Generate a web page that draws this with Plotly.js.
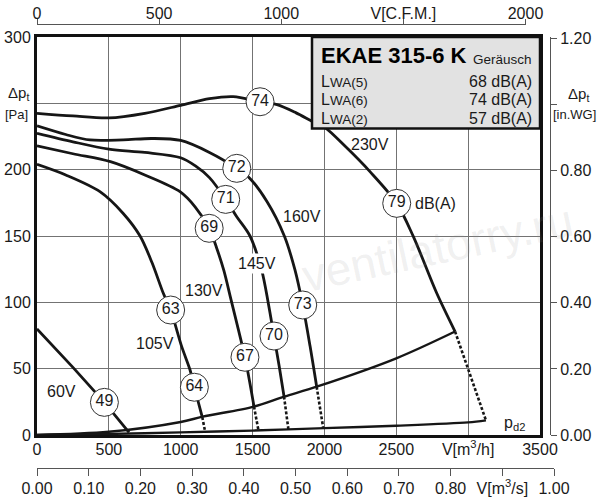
<!DOCTYPE html>
<html>
<head>
<meta charset="utf-8">
<script src="https://cdn.plot.ly/plotly-3.0.1.min.js"></script>
<style>html,body{margin:0;padding:0;background:#fff}#chart{width:600px;height:500px}</style>
</head>
<body>
<div id="chart"></div>
<script>
// ---- data (V in m3/h, p in Pa) ----
const V230 = [0, 250, 500, 750, 1000, 1200, 1365, 1552, 1670, 1800, 1923, 2000, 2150, 2317, 2503, 2619, 2781, 2909];
const P230 = [242.5, 240.5, 239, 242.5, 248.5, 253.5, 255, 251.2, 249, 243, 236, 232, 217, 198.5, 174.6, 149.5, 107, 78];
const V160 = [0, 200, 369, 600, 800, 1000, 1200, 1390, 1470, 1600, 1721, 1795, 1849, 1900, 1946];
const P160 = [233, 226.5, 222.4, 222.5, 223.5, 222, 213, 201, 194.7, 176, 150, 124.4, 98, 67, 36.4];
const V145 = [0, 250, 500, 750, 1000, 1100, 1200, 1313, 1390, 1482, 1563, 1610, 1649, 1685, 1719];
const P145 = [227.4, 221, 215.5, 213, 209, 203, 194, 177.6, 164.5, 150, 124.4, 99, 74.6, 52, 29];
const V130 = [0, 250, 511, 750, 995, 1100, 1198, 1250, 1300, 1350, 1400, 1447, 1480, 1510];
const P130 = [218, 212, 206, 196, 183.4, 172, 155.8, 141, 124, 102, 80, 58.6, 40, 21.4];
const V105 = [0, 200, 438, 600, 717, 800, 879, 930, 1007, 1065, 1095, 1150];
const P105 = [204, 196, 183.4, 167, 150, 130, 106.8, 94.2, 66.6, 49, 36, 13.5];
const V60 = [0, 250, 469, 640];
const P60 = [80, 51, 24.6, 2];
// end-of-curve dotted parts (below the pd line)
const Vdot105 = [1150, 1169], Pdot105 = [13.5, 3];
const Vdot130 = [1510, 1540], Pdot130 = [21.4, 4];
const Vdot145 = [1719, 1749], Pdot145 = [29, 4.5];
const Vdot160 = [1946, 1992], Pdot160 = [36.4, 5];
const Vdot230 = [2909, 3124], Pdot230 = [78, 11];
// system / dynamic pressure lines
const Vpd = [0, 500, 1000, 1153, 1510, 1719, 1946, 2500, 2909];
const Ppd = [0, 2.4, 9.8, 13.8, 21.4, 28.9, 36.4, 57.8, 78];
const Vpd2 = [0, 500, 1000, 1500, 2000, 2500, 3000, 3124];
const Ppd2 = [0, 0.8, 2, 3.3, 5.2, 7, 9.5, 11];
// sound-level circles
const circV = [1552, 1390, 1313, 1198, 2503, 930, 1095, 1447, 1649, 1849, 469];
const circP = [251.2, 201, 177.6, 155.8, 174.6, 94.2, 36, 58.6, 74.6, 98, 24.6];
const circT = ['74', '72', '71', '69', '79', '63', '64', '67', '70', '73', '49'];
// curve labels
const labV = [2317, 1847, 1529, 1163, 821, 172, 2775];
const labP = [218.6, 164.5, 129.1, 108.7, 69.3, 32.6, 174.3];
const labT = ['230V', '160V', '145V', '130V', '105V', '60V', 'dB(A)'];
// axis ticks
const xTicks = [0, 500, 1000, 1500, 2000, 2500, 3000, 3500];
const xTickText = ['0', '500', '1000', '1500', '2000', '2500', 'V[m<sup>3</sup>/h]', '3500'];
const yTicks = [0, 50, 100, 150, 200, 300];
const yTickText = ['0', '50', '100', '150', '200', '300'];
const cfmTicks = [0, 500, 1000, 1500, 2000];
const cfmTickText = ['0', '500', '1000', 'V[C.F.M.]', '2000'];
const m3sTicks = [0, 0.1, 0.2, 0.3, 0.4, 0.5, 0.6, 0.7, 0.8, 0.9, 1.0];
const m3sTickText = ['0.00', '0.10', '0.20', '0.30', '0.40', '0.50', '0.60', '0.70', '0.80', 'V[m<sup>3</sup>/s]', '1.00'];
const wgTicks = [0, 0.2, 0.4, 0.6, 0.8, 1.2];
const wgTickText = ['0.00', '0.20', '0.40', '0.60', '0.80', '1.20'];
// info box
const boxTitle = 'EKAE 315-6 K';
const boxSub = 'Geräusch';
const rowNames = ['(5)', '(6)', '(2)'];
const rowVals = ['68 dB(A)', '74 dB(A)', '57 dB(A)'];

const FONT = 'Liberation Sans, Arial, Helvetica, sans-serif';
const TXT = '#1a1a1a';
const CURVE = '#161616';
const ax = p => p / 600;
const ay = p => (500 - p) / 500;

function solid(x, y, w) {
  return {x: x, y: y, type: 'scatter', mode: 'lines', line: {color: CURVE, width: w || 2.8, shape: 'spline', smoothing: 0.9},
          hoverinfo: 'skip', showlegend: false};
}
function dotted(x, y) {
  return {x: x, y: y, type: 'scatter', mode: 'lines', line: {color: CURVE, width: 2.6, dash: '3px,2px'},
          hoverinfo: 'skip', showlegend: false};
}
const traces = [
  solid(Vpd, Ppd, 2.4), solid(Vpd2, Ppd2, 2.4),
  solid(V230, P230), solid(V160, P160), solid(V145, P145), solid(V130, P130), solid(V105, P105),
  {x: V60, y: P60, type: 'scatter', mode: 'lines', line: {color: CURVE, width: 2.8}, hoverinfo: 'skip', showlegend: false},
  dotted(Vdot105, Pdot105), dotted(Vdot130, Pdot130), dotted(Vdot145, Pdot145), dotted(Vdot160, Pdot160), dotted(Vdot230, Pdot230),
  {x: circV, y: circP, text: circT, type: 'scatter', mode: 'markers+text', textposition: 'middle center',
   marker: {size: 28, color: '#ffffff', line: {color: '#333', width: 1}},
   textfont: {family: FONT, size: 16, color: TXT}, hoverinfo: 'skip', showlegend: false, cliponaxis: false},
  // anchors for the secondary axes (invisible)
  {x: [0], y: [0], xaxis: 'x2', yaxis: 'y3', type: 'scatter', mode: 'markers', marker: {opacity: 0}, hoverinfo: 'skip', showlegend: false},
  {x: [0], y: [0], xaxis: 'x3', yaxis: 'y4', type: 'scatter', mode: 'markers', marker: {opacity: 0}, hoverinfo: 'skip', showlegend: false},
  {x: [0], y: [0], xaxis: 'x', yaxis: 'y2', type: 'scatter', mode: 'markers', marker: {opacity: 0}, hoverinfo: 'skip', showlegend: false}
];

const annotations = [];
function note(x, y, text, size, extra) {
  const a = {x: x, y: y, xref: 'paper', yref: 'paper', xanchor: 'center', yanchor: 'middle', text: text,
    showarrow: false, font: {family: FONT, size: size, color: TXT}};
  Object.assign(a, extra || {});
  annotations.push(a);
}
// watermark (drawn first, underneath the other texts)
note(ax(437), ay(248), 'ventilatorry.ru', 46, {textangle: -12, font: {family: FONT, size: 46, color: 'rgba(150,150,150,0.15)'}});
labT.forEach(function (t, i) {
  const a = {x: labV[i], y: labP[i], xref: 'x', yref: 'y', xanchor: 'center', yanchor: 'middle', text: t, showarrow: false,
    font: {family: FONT, size: 16, color: TXT}};
  if (t === '145V') { a.bgcolor = '#ffffff'; }
  annotations.push(a);
});
annotations.push({x: 3326, y: 9, xref: 'x', yref: 'y', xanchor: 'center', yanchor: 'middle', text: 'p<sub>d2</sub>', showarrow: false,
  font: {family: FONT, size: 16, color: TXT}});
// axis titles
note(ax(18), ay(94), '\u0394p<sub>t</sub>', 15);
note(ax(16), ay(115), '[Pa]', 13);
note(ax(578), ay(95), '\u0394p<sub>t</sub>', 15);
note(ax(574), ay(115), '[in.WG]', 13);
// info box text
note(ax(319), ay(56), '<b>' + boxTitle + '</b>', 22, {xanchor: 'left', font: {family: FONT, size: 22, color: '#000'}});
note(ax(534), ay(59), boxSub, 13.5, {xanchor: 'right'});
const rowY = [81, 99.5, 118.5];
rowNames.forEach(function (n, i) {
  note(ax(319), ay(rowY[i]), 'L<span style="font-size:13.5px">WA' + n + '</span>', 16, {xanchor: 'left'});
  note(ax(534), ay(rowY[i]), rowVals[i], 16, {xanchor: 'right'});
});

const tickFont = {family: FONT, size: 16, color: TXT};
const layout = {
  width: 600, height: 500, margin: {l: 0, r: 0, t: 0, b: 0},
  paper_bgcolor: '#ffffff', plot_bgcolor: 'rgba(0,0,0,0)', showlegend: false,
  xaxis: {domain: [ax(37), ax(540)], range: [0, 3500], tickvals: xTicks, ticktext: xTickText, ticks: '',
    showgrid: true, gridcolor: '#737373', gridwidth: 1, zeroline: false, showline: true, mirror: true,
    linecolor: '#111', linewidth: 3, tickfont: tickFont, automargin: false, anchor: 'y', ticklabelstandoff: -2},
  yaxis: {domain: [ay(435), ay(37)], range: [0, 300], tickvals: yTicks, ticktext: yTickText, ticks: '',
    showgrid: true, gridcolor: '#737373', gridwidth: 1, zeroline: false, showline: true, mirror: true,
    linecolor: '#111', linewidth: 3, tickfont: tickFont, automargin: false, anchor: 'x',
    minor: {tickmode: 'linear', tick0: 0, dtick: 50, showgrid: true, gridcolor: '#737373', gridwidth: 1, ticks: ''}},
  yaxis2: {overlaying: 'y', range: [0, 300 / 249.09], anchor: 'free', position: ax(550), side: 'right',
    tickvals: wgTicks, ticktext: wgTickText, ticks: 'outside', ticklen: 6, tickcolor: '#555', tickwidth: 1,
    showline: true, linecolor: '#555', linewidth: 1, showgrid: false, zeroline: false, tickfont: tickFont, automargin: false,
    minor: {tickmode: 'linear', tick0: 0, dtick: 0.2, ticks: 'outside', ticklen: 6, tickcolor: '#555', tickwidth: 1, showgrid: false}},
  xaxis2: {domain: [ax(37), ax(525.5)], range: [0, 2000], anchor: 'y3', side: 'top',
    tickvals: cfmTicks, ticktext: cfmTickText, ticks: 'outside', ticklen: 5, tickcolor: '#555', tickwidth: 1,
    showline: true, linecolor: '#555', linewidth: 1, showgrid: false, zeroline: false, tickfont: tickFont, automargin: false,
    ticklabelstandoff: -6},
  yaxis3: {domain: [ay(28), ay(25)], anchor: 'x2', visible: false, range: [0, 1]},
  xaxis3: {domain: [ax(37), ax(554)], range: [0, 1], anchor: 'y4', side: 'bottom',
    tickvals: m3sTicks, ticktext: m3sTickText, ticks: 'outside', ticklen: 7, tickcolor: '#555', tickwidth: 1,
    showline: true, linecolor: '#555', linewidth: 1, showgrid: false, zeroline: false, tickfont: tickFont, automargin: false,
    ticklabelstandoff: -1},
  yaxis4: {domain: [ay(468), ay(465)], anchor: 'x3', visible: false, range: [0, 1]},
  shapes: [
    {type: 'rect', xref: 'paper', yref: 'paper', x0: ax(312), x1: ax(540), y0: ay(128.5), y1: ay(37),
     fillcolor: '#e2e2e2', line: {color: '#111', width: 2.5}, layer: 'above'}
  ],
  annotations: annotations
};
Plotly.newPlot('chart', traces, layout, {staticPlot: true, displayModeBar: false});
</script>
</body>
</html>
